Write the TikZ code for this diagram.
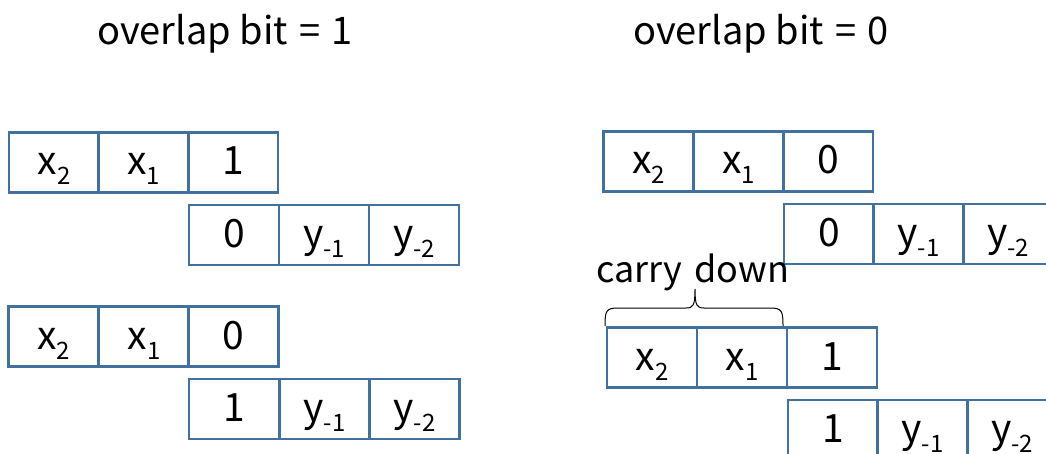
\documentclass[tikz,border=0pt]{standalone}
\usepackage{fontspec}
\setmainfont{Noto Sans CJK JP}
\definecolor{boxblue}{RGB}{65,113,156}
\newcommand\lo[1]{\raisebox{-10pt}{\fontsize{24}{24}\selectfont #1}}
\newcommand\eqsp{\hspace{11pt}}
\begin{document}
\begin{tikzpicture}[x=1pt,y=-1pt,
  cell/.style={draw=boxblue, line width=2.2pt, minimum width=90pt, minimum height=60pt,
    inner sep=0pt, text height=29pt, text depth=4pt, font=\fontsize{39}{39}\selectfont},
  title/.style={anchor=base west, inner sep=0pt, font=\fontsize{38}{38}\selectfont},
  lbl/.style={anchor=base west, inner sep=0pt, font=\fontsize{36}{36}\selectfont}]
\useasboundingbox (0,0) rectangle (1046,454);
% titles
\node[title] (t1) at (97,45) {overlap bit\eqsp=\eqsp1};
\node[title] (t2) at (633,45) {overlap bit\eqsp=\eqsp0};
% left group
\node[cell] (a1) at (54,162.5) {x\lo{2}};
\node[cell] (a2) at (143.5,162.5) {x\lo{1}};
\node[cell] (a3) at (233,162.5) {1};
\node[cell] (b1) at (234,235) {0};
\node[cell] (b2) at (324,235) {y\lo{-1}};
\node[cell] (b3) at (414,235) {y\lo{-2}};
\node[cell] (c1) at (53.5,336.5) {x\lo{2}};
\node[cell] (c2) at (144,336.5) {x\lo{1}};
\node[cell] (c3) at (233.5,336.5) {0};
\node[cell] (d1) at (234,409) {1};
\node[cell] (d2) at (324.5,409) {y\lo{-1}};
\node[cell] (d3) at (414.5,409) {y\lo{-2}};
% right group
\node[cell] (e1) at (648.5,161.5) {x\lo{2}};
\node[cell] (e2) at (738.5,161.5) {x\lo{1}};
\node[cell] (e3) at (828,161.5) {0};
\node[cell] (f1) at (829,234) {0};
\node[cell] (f2) at (918.5,234) {y\lo{-1}};
\node[cell] (f3) at (1008,234) {y\lo{-2}};
\node[lbl] (cd) at (596,282) {carry\hspace{4pt} down};
\node[cell] (g1) at (652,357.5) {x\lo{2}};
\node[cell] (g2) at (742,357.5) {x\lo{1}};
\node[cell] (g3) at (832,357.5) {1};
\node[cell] (h1) at (833,430) {1};
\node[cell] (h2) at (922.5,430) {y\lo{-1}};
\node[cell] (h3) at (1012,430) {y\lo{-2}};
% brace
\coordinate (bl) at (605,326);
\coordinate (br) at (783,326);
\coordinate (bt) at (695,289);
\draw[line width=1pt] (bl) .. controls (605,311) and (606,308) .. (618,308)
  -- (686,308) .. controls (693,308) and (695,306) .. (bt)
  .. controls (695,306) and (697,308) .. (704,308)
  -- (770,308) .. controls (782,308) and (783,311) .. (br);
\end{tikzpicture}
\end{document}
